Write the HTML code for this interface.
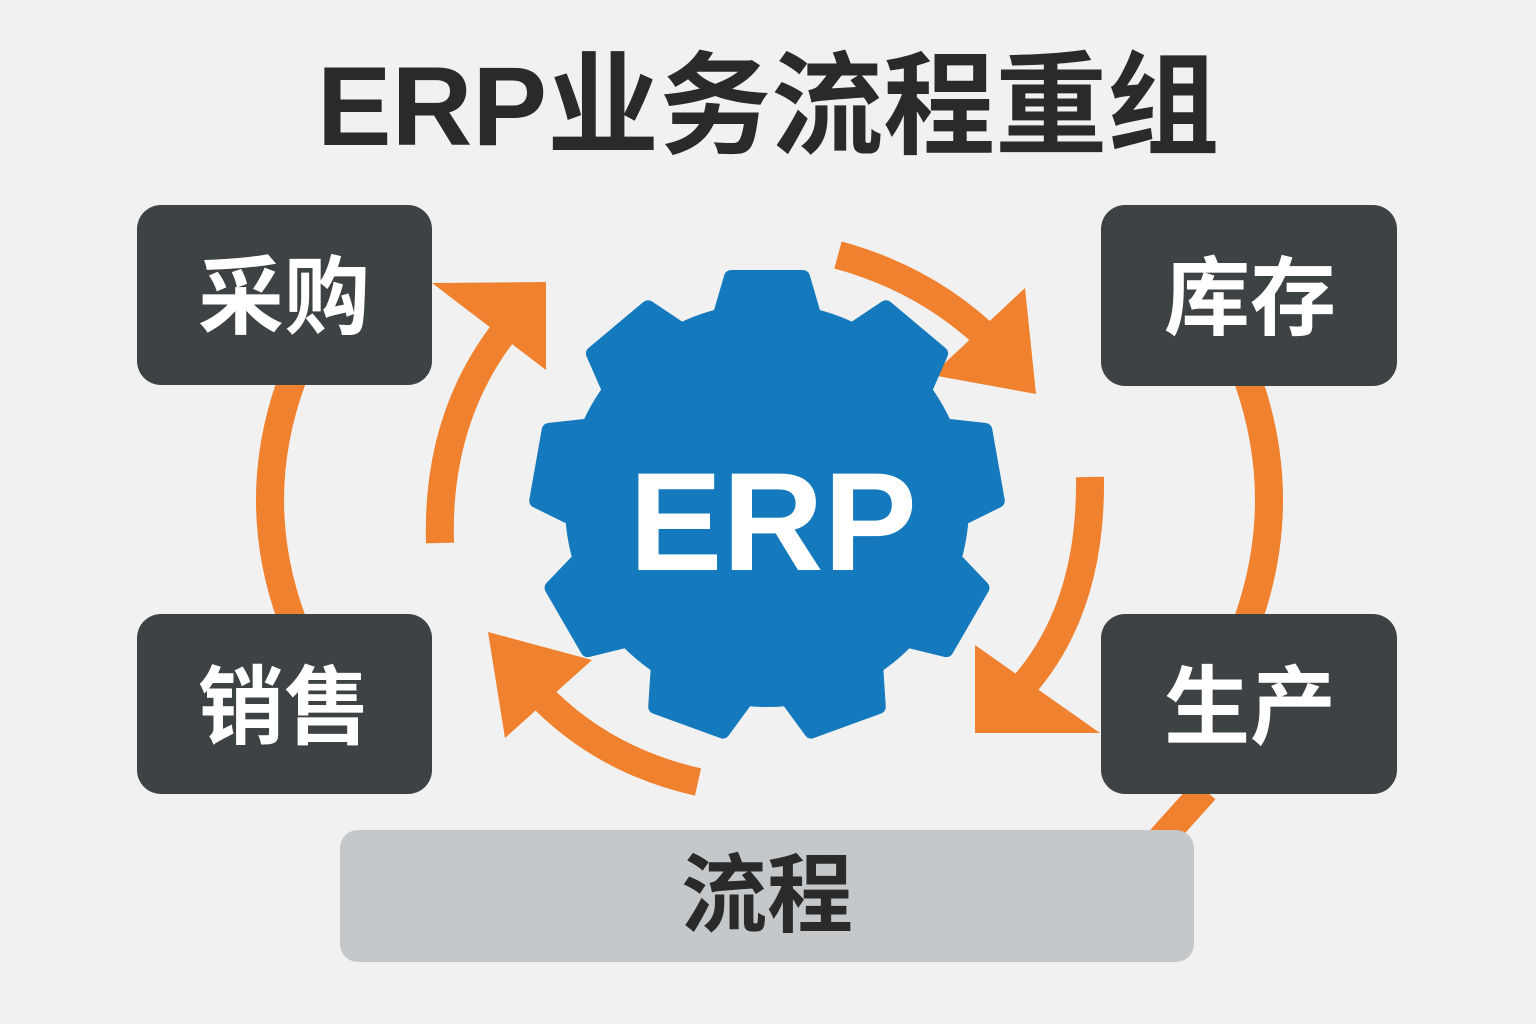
<!DOCTYPE html>
<html><head><meta charset="utf-8"><style>
html,body{margin:0;padding:0;background:#f1f1f1;}
svg{display:block}
text{font-family:"Liberation Sans","Noto Sans CJK SC",sans-serif;font-weight:bold}
</style></head><body>
<svg width="1536" height="1024" viewBox="0 0 1536 1024" xmlns="http://www.w3.org/2000/svg">
<rect width="1536" height="1024" fill="#f1f1f1"/>
<text x="768" y="145" font-size="112" fill="#2a2a2a" text-anchor="middle">ERP业务流程重组</text>

<g fill="none" stroke="#f0812e" stroke-width="28">
<path d="M292 380 Q248 500 292 620"/>
<path d="M1248 380 Q1290 500 1248 620"/>
<path d="M1205 790 L1160 840"/>
<path d="M440 543 Q436 410 515 318"/>
<path d="M838 255 Q930 280 995 345"/>
<path d="M1090 477 Q1092 620 1010 700"/>
<path d="M698 782 Q600 760 535 690"/>
</g>
<g fill="#f0812e">
<polygon points="432,283 546,282 546,370"/>
<polygon points="1025,288 1036,394 932,375"/>
<polygon points="975,645 975,733 1100,733"/>
<polygon points="488,632 592,660 505,738"/>
</g>

<g fill="#3d4245">
<rect x="137" y="205" width="295" height="180" rx="24"/>
<rect x="137" y="614" width="295" height="180" rx="24"/>
<rect x="1101" y="205" width="296" height="181" rx="24"/>
<rect x="1101" y="614" width="296" height="180" rx="24"/>
</g>
<g fill="#fff" font-size="86" text-anchor="middle">
<text x="284" y="327">采购</text>
<text x="284" y="737">销售</text>
<text x="1250" y="328">库存</text>
<text x="1250" y="737">生产</text>
</g>

<rect x="340" y="830" width="854" height="132" rx="18" fill="#c5c8ca"/>
<text x="767" y="925" font-size="86" fill="#2a2a2a" text-anchor="middle">流程</text>

<g transform="translate(767,505)" fill="#1479bd" stroke="#1479bd" stroke-width="14" stroke-linejoin="round">
<circle r="195"/>
<polygon points="-50,-180 -36,-228 36,-228 50,-180"/>
<polygon transform="rotate(40)" points="-50,-180 -36,-228 36,-228 50,-180"/>
<polygon transform="rotate(80)" points="-50,-180 -36,-228 36,-228 50,-180"/>
<polygon transform="rotate(120)" points="-50,-180 -36,-228 36,-228 50,-180"/>
<polygon transform="rotate(160)" points="-50,-180 -36,-228 36,-228 50,-180"/>
<polygon transform="rotate(200)" points="-50,-180 -36,-228 36,-228 50,-180"/>
<polygon transform="rotate(240)" points="-50,-180 -36,-228 36,-228 50,-180"/>
<polygon transform="rotate(280)" points="-50,-180 -36,-228 36,-228 50,-180"/>
<polygon transform="rotate(320)" points="-50,-180 -36,-228 36,-228 50,-180"/>
</g>
<text x="773" y="570" font-size="140" fill="#fff" text-anchor="middle">ERP</text>
</svg>
</body></html>
